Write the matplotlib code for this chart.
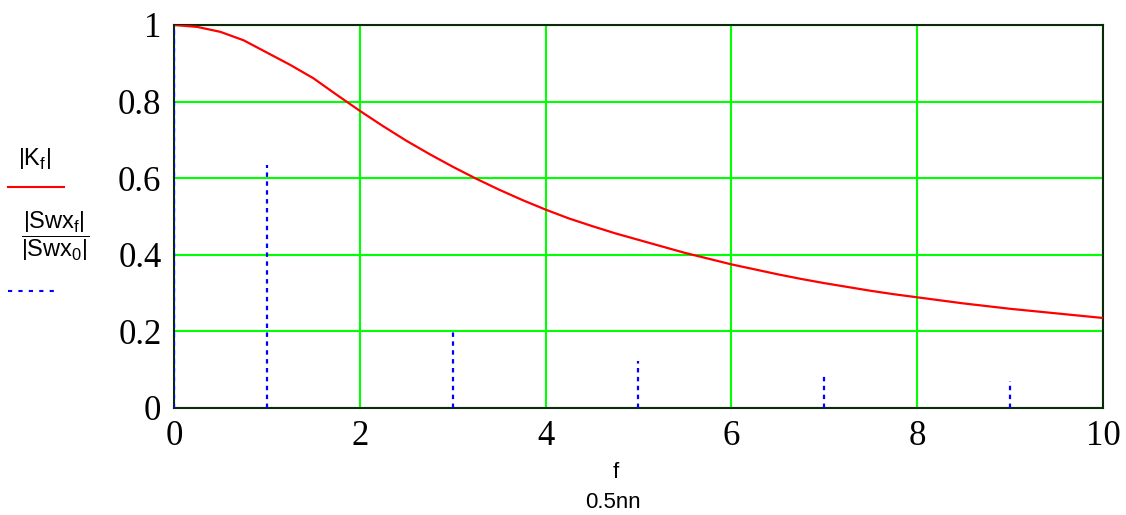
import numpy as np
import matplotlib.pyplot as plt
from matplotlib.lines import Line2D

# red curve |K_f|
f_k = [0, 0.25, 0.5, 0.75, 1, 1.25, 1.5, 1.75, 2, 2.25, 2.5, 2.75, 3, 3.25, 3.5, 3.75,
       4, 4.25, 4.5, 4.75, 5, 5.25, 5.5, 5.75, 6, 6.25, 6.5, 6.75, 7, 7.25, 7.5, 7.75,
       8, 8.25, 8.5, 8.75, 9, 9.25, 9.5, 9.75, 10]
k_vals = [1.0, 0.995, 0.982, 0.960, 0.928, 0.896, 0.861, 0.818, 0.776, 0.736, 0.698, 0.663,
          0.630, 0.599, 0.570, 0.543, 0.518, 0.495, 0.475, 0.456, 0.439, 0.422, 0.405, 0.390,
          0.375, 0.362, 0.349, 0.337, 0.326, 0.316, 0.306, 0.297, 0.289, 0.281, 0.273, 0.266,
          0.259, 0.253, 0.247, 0.241, 0.235]

# blue spectral lines |Swx_f| / |Swx_0|
f_s = [0, 1, 3, 5, 7, 9]
s_vals = [1.0, 0.635, 0.207, 0.123, 0.086, 0.07]

x_ticks = [0, 2, 4, 6, 8, 10]
y_ticks = [0, 0.2, 0.4, 0.6, 0.8, 1]
y_labels = ['0', '0.2', '0.4', '0.6', '0.8', '1']

plt.rcParams['mathtext.fontset'] = 'custom'
plt.rcParams['mathtext.rm'] = 'Liberation Sans'
plt.rcParams['mathtext.it'] = 'Liberation Sans'

fig = plt.figure(figsize=(11.26, 5.15), dpi=100)
ax = fig.add_axes([0.1545, 0.2078, 0.825, 0.7437])

ax.set_xlim(0, 10)
ax.set_ylim(0, 1)
ax.set_xticks(x_ticks)
ax.set_yticks(y_ticks)
ax.set_xticklabels([str(t) for t in x_ticks])
ax.set_yticklabels(y_labels)
ax.tick_params(length=0, labelsize=25, pad=9)
for lab in ax.get_xticklabels() + ax.get_yticklabels():
    lab.set_fontfamily('Liberation Serif')

ax.grid(True, color='#00ff00', linewidth=1.5)
ax.set_axisbelow(True)
for sp in ax.spines.values():
    sp.set_color('#0a2a0a')
    sp.set_linewidth(1.5)

ax.plot(f_k, k_vals, color='red', linewidth=1.6, zorder=3)
ax.vlines(f_s, 0, s_vals, colors='blue', linestyles=(0, (2, 2)), linewidth=1.6, zorder=3)
ax.axhline(0, color='#8888ff', linestyle=(0, (2, 2)), linewidth=0.8, zorder=4)

# axis labels
fig.text(616 / 1126, 1 - 473 / 515, 'f', fontsize=16, family='Liberation Sans', ha='center', va='center')
fig.text(613 / 1126, 1 - 503 / 515, '0.5nn', fontsize=16, family='Liberation Sans', ha='center', va='center')

# left legend-like label block
fig.text(34 / 1126, 1 - 158 / 515, r'$\left|\mathrm{K_f}\right|$', fontsize=17, ha='center', va='center')
fig.add_artist(Line2D([8 / 1126, 64 / 1126], [1 - 187 / 515, 1 - 187 / 515], color='red', linewidth=1.5))
fig.text(55 / 1126, 1 - 236 / 515,
         r'$\dfrac{\left|\mathrm{Swx_f}\right|}{\left|\mathrm{Swx_0}\right|}$', fontsize=17,
         ha='center', va='center')
fig.add_artist(Line2D([8 / 1126, 60 / 1126], [1 - 291 / 515, 1 - 291 / 515], color='blue',
                      linewidth=1.5, linestyle=(0, (2, 3))))

fig.savefig('out.png', dpi=100)
